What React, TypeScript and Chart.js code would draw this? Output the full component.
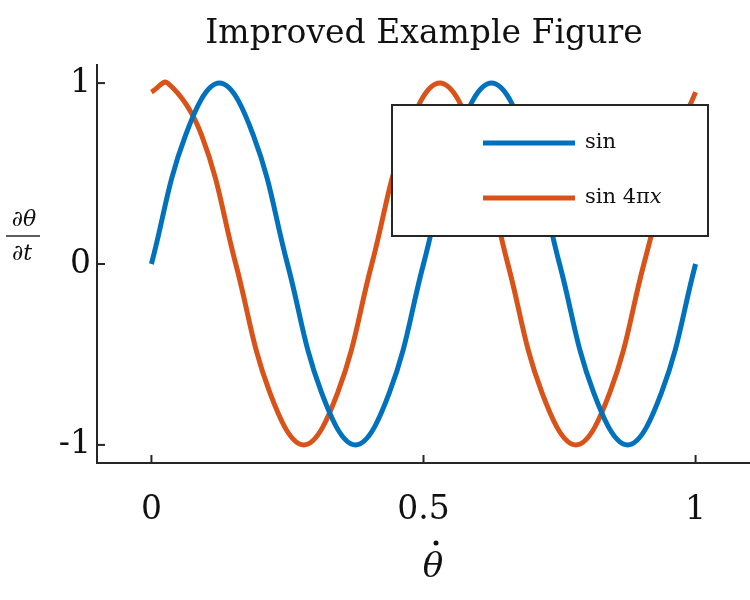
import { useEffect, useRef } from 'react';
import { Chart } from 'chart.js/auto';

const titleText = 'Improved Example Figure';
const xTicks = [0, 0.5, 1];
const yTicks = [-1, 0, 1];
const sinX = [0, 0.0625, 0.125, 0.1875, 0.25, 0.3125, 0.375, 0.4375, 0.5, 0.5625, 0.625, 0.6875, 0.75, 0.8125, 0.875, 0.9375, 1];
const sinY = [0, 0.71, 1, 0.71, 0, -0.71, -1, -0.71, 0, 0.71, 1, 0.71, 0, -0.71, -1, -0.71, 0];
const shiftX = [0, 0.03, 0.0925, 0.155, 0.2175, 0.28, 0.3425, 0.405, 0.4675, 0.53, 0.5925, 0.655, 0.7175, 0.78, 0.8425, 0.905, 0.9675, 1];
const shiftY = [0.95, 1, 0.71, 0, -0.71, -1, -0.71, 0, 0.71, 1, 0.71, 0, -0.71, -1, -0.71, 0, 0.71, 0.95];
const legendLabels = ['sin', 'sin 4\u03C0x'];
const colors = ['#0072BD', '#D95319'];

const SERIF = '"DejaVu Serif", "Liberation Serif", serif';

const decor = {
  id: 'decor',
  afterDraw(chart: any) {
    const { ctx, chartArea: a, scales } = chart;
    ctx.save();
    ctx.strokeStyle = '#262626';
    ctx.lineWidth = 2;
    // inward ticks
    xTicks.forEach((v) => {
      const px = scales.x.getPixelForValue(v);
      ctx.beginPath(); ctx.moveTo(px, a.bottom); ctx.lineTo(px, a.bottom - 8); ctx.stroke();
    });
    yTicks.forEach((v) => {
      const py = scales.y.getPixelForValue(v);
      ctx.beginPath(); ctx.moveTo(a.left, py); ctx.lineTo(a.left + 8, py); ctx.stroke();
    });
    ctx.fillStyle = '#111';
    ctx.textAlign = 'center';
    ctx.textBaseline = 'middle';
    ctx.font = `33px ${SERIF}`;
    ctx.fillText(titleText, 424, 34);
    // x label: theta dot
    ctx.font = `italic 34px ${SERIF}`;
    ctx.fillText('\u03B8', 433, 568);
    ctx.beginPath(); ctx.arc(436, 543, 2.5, 0, Math.PI * 2); ctx.fill();
    // y label: d theta / dt
    ctx.font = `italic 22px ${SERIF}`;
    ctx.fillText('\u2202\u03B8', 24, 220);
    ctx.fillText('\u2202t', 22, 254);
    ctx.lineWidth = 1.5;
    ctx.beginPath(); ctx.moveTo(6, 236); ctx.lineTo(40, 236); ctx.stroke();
    // legend
    const lx = 392, ly = 105, lw = 316, lh = 131;
    ctx.fillStyle = '#fff';
    ctx.fillRect(lx, ly, lw, lh);
    ctx.strokeStyle = '#262626';
    ctx.lineWidth = 2;
    ctx.strokeRect(lx, ly, lw, lh);
    legendLabels.forEach((lab, i) => {
      const y = ly + 38 + i * 55;
      ctx.strokeStyle = colors[i];
      ctx.lineWidth = 5;
      ctx.beginPath(); ctx.moveTo(483, y); ctx.lineTo(575, y); ctx.stroke();
      ctx.fillStyle = '#111';
      ctx.textAlign = 'left';
      ctx.font = `21px ${SERIF}`;
      if (i === 0) ctx.fillText(lab, 585, y);
      else {
        ctx.fillText('sin 4\u03C0', 585, y);
        const w = ctx.measureText('sin 4\u03C0').width;
        ctx.font = `italic 21px ${SERIF}`;
        ctx.fillText('x', 585 + w, y);
      }
    });
    ctx.restore();
  },
};

export default function App() {
  const canvasRef = useRef<HTMLCanvasElement>(null);

  useEffect(() => {
    document.body.style.margin = '0';
    if (!canvasRef.current) return;
    const chart = new Chart(canvasRef.current, {
      type: 'line',
      data: {
        datasets: [
          { data: sinX.map((x, i) => ({ x, y: sinY[i] })), borderColor: colors[0] },
          { data: shiftX.map((x, i) => ({ x, y: shiftY[i] })), borderColor: colors[1] },
        ].map((d) => ({ ...d, borderWidth: 5, pointRadius: 0, tension: 0.4, fill: false })),
      },
      options: {
        responsive: false,
        animation: false,
        layout: { padding: { left: 37, right: 0, top: 65, bottom: 57 } },
        plugins: { legend: { display: false }, tooltip: { enabled: false } },
        scales: {
          x: {
            type: 'linear', min: -0.1, max: 1.1,
            afterBuildTicks: (s: any) => { s.ticks = xTicks.map((value) => ({ value })); },
            afterFit: (s: any) => { s.height = 80; },
            grid: { drawOnChartArea: false, drawTicks: false },
            border: { color: '#262626', width: 2 },
            ticks: { padding: 28, color: '#111', font: { family: SERIF, size: 33 }, callback: (v: any) => String(v) },
          },
          y: {
            min: -1.1, max: 1.1,
            afterBuildTicks: (s: any) => { s.ticks = yTicks.map((value) => ({ value })); },
            afterFit: (s: any) => { s.width = 60; },
            grid: { drawOnChartArea: false, drawTicks: false },
            border: { color: '#262626', width: 2 },
            ticks: { padding: 6, color: '#111', font: { family: SERIF, size: 33 }, callback: (v: any) => String(v) },
          },
        },
      },
      plugins: [decor],
    });
    return () => chart.destroy();
  }, []);

  return <canvas ref={canvasRef} width={750} height={600} />;
}
